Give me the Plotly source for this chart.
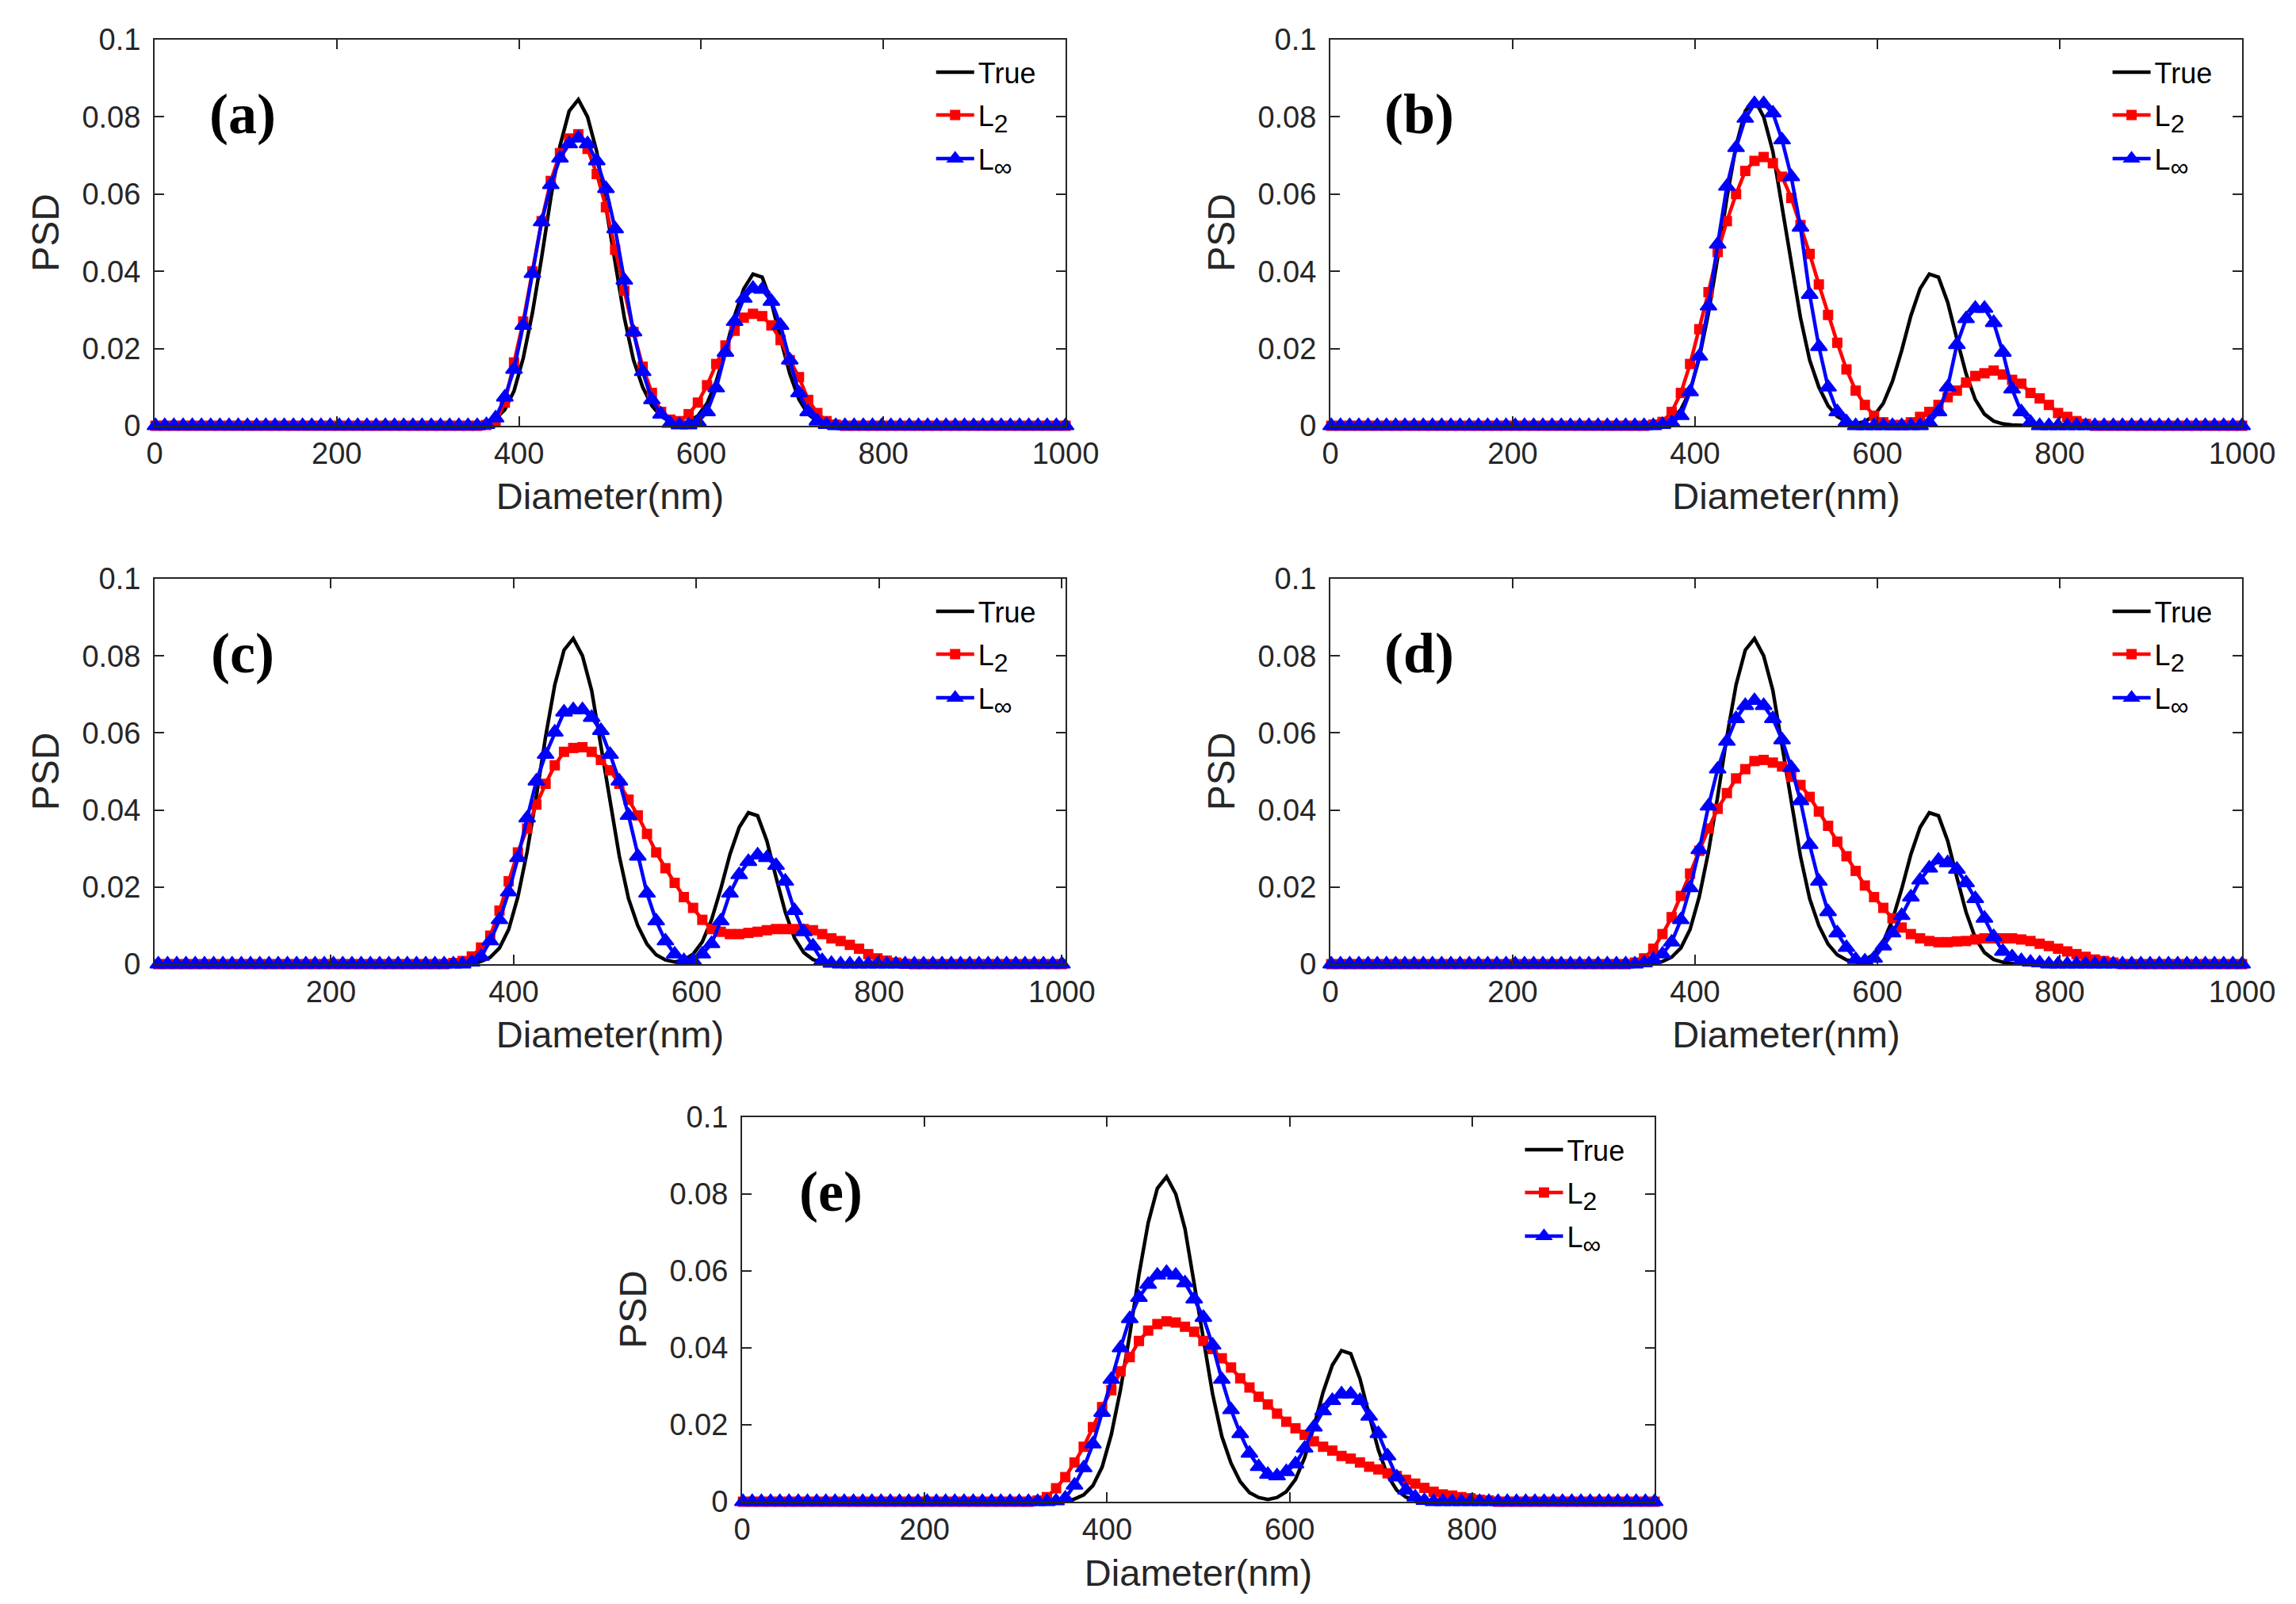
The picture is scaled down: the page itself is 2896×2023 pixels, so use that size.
import numpy as np
import plotly.graph_objects as go

# diameter grid (nm) of the inversion, 100 points
N_POINTS = 100
diameter = np.linspace(1, 1000, N_POINTS)

# each curve is zero outside the stretch listed; *_START is the grid index of the first value
TRUE_START = 33
TRUE_PSD = [0.0000, 0.0001, 0.0002, 0.0007, 0.0018, 0.0042, 0.0090, 0.0175, 0.0292, 0.0435,
            0.0590, 0.0725, 0.0815, 0.0845, 0.0800, 0.0710, 0.0570, 0.0420, 0.0280, 0.0170,
            0.0100, 0.0052, 0.0024, 0.0011, 0.0006, 0.0011, 0.0026, 0.0058, 0.0115, 0.0195,
            0.0285, 0.0355, 0.0393, 0.0385, 0.0320, 0.0225, 0.0135, 0.0068, 0.0030, 0.0012,
            0.0005, 0.0002]

A_L2_START = 36
A_L2 = [0.0002, 0.0010, 0.0060, 0.0164, 0.0270, 0.0400, 0.0530, 0.0634, 0.0706, 0.0744,
        0.0755, 0.0717, 0.0652, 0.0566, 0.0456, 0.0350, 0.0243, 0.0153, 0.0085, 0.0036,
        0.0016, 0.0012, 0.0030, 0.0060, 0.0105, 0.0160, 0.0208, 0.0246, 0.0280, 0.0290,
        0.0284, 0.0260, 0.0222, 0.0170, 0.0126, 0.0067, 0.0033, 0.0012, 0.0003]
A_LINF_START = 36
A_LINF = [0.0003, 0.0020, 0.0074, 0.0146, 0.0260, 0.0394, 0.0528, 0.0624, 0.0693, 0.0730,
          0.0745, 0.0730, 0.0686, 0.0614, 0.0510, 0.0377, 0.0243, 0.0140, 0.0067, 0.0030,
          0.0006, 0.0002, 0.0002, 0.0010, 0.0036, 0.0098, 0.0190, 0.0270, 0.0330, 0.0356,
          0.0353, 0.0322, 0.0260, 0.0170, 0.0085, 0.0036, 0.0012, 0.0003]

B_L2_START = 35
B_L2 = [0.0003, 0.0010, 0.0036, 0.0085, 0.0160, 0.0250, 0.0346, 0.0450, 0.0530, 0.0600,
        0.0660, 0.0686, 0.0696, 0.0680, 0.0645, 0.0590, 0.0520, 0.0445, 0.0366, 0.0287,
        0.0215, 0.0146, 0.0091, 0.0054, 0.0026, 0.0009, 0.0002, 0.0002, 0.0009, 0.0023,
        0.0036, 0.0054, 0.0074, 0.0091, 0.0112, 0.0129, 0.0136, 0.0143, 0.0133, 0.0119,
        0.0109, 0.0085, 0.0071, 0.0054, 0.0033, 0.0023, 0.0012, 0.0005]
B_LINF_START = 36
B_LINF = [0.0003, 0.0008, 0.0026, 0.0088, 0.0180, 0.0310, 0.0470, 0.0620, 0.0720, 0.0796,
          0.0834, 0.0834, 0.0810, 0.0740, 0.0645, 0.0514, 0.0340, 0.0205, 0.0100, 0.0036,
          0.0010, 0.0000, 0.0000, 0.0000, 0.0000, 0.0000, 0.0000, 0.0000, 0.0000, 0.0008,
          0.0036, 0.0100, 0.0210, 0.0277, 0.0304, 0.0304, 0.0267, 0.0190, 0.0095, 0.0036,
          0.0009]

C_L2_START = 33
C_L2 = [0.0003, 0.0008, 0.0020, 0.0043, 0.0074, 0.0139, 0.0215, 0.0290, 0.0352, 0.0414,
        0.0468, 0.0516, 0.0551, 0.0561, 0.0563, 0.0551, 0.0530, 0.0503, 0.0468, 0.0427,
        0.0386, 0.0338, 0.0290, 0.0249, 0.0211, 0.0174, 0.0146, 0.0115, 0.0091, 0.0084,
        0.0078, 0.0078, 0.0081, 0.0084, 0.0088, 0.0091, 0.0091, 0.0091, 0.0091, 0.0088,
        0.0078, 0.0067, 0.0060, 0.0050, 0.0040, 0.0026, 0.0015, 0.0009, 0.0004, 0.0001]
C_LINF_START = 35
C_LINF = [0.0005, 0.0020, 0.0060, 0.0115, 0.0187, 0.0276, 0.0379, 0.0475, 0.0544, 0.0602,
          0.0654, 0.0660, 0.0660, 0.0640, 0.0606, 0.0544, 0.0475, 0.0386, 0.0280, 0.0184,
          0.0112, 0.0060, 0.0026, 0.0009, 0.0009, 0.0026, 0.0053, 0.0112, 0.0184, 0.0232,
          0.0266, 0.0283, 0.0276, 0.0256, 0.0215, 0.0139, 0.0084, 0.0047, 0.0009, 0.0002]

D_L2_START = 33
D_L2 = [0.0004, 0.0015, 0.0040, 0.0078, 0.0122, 0.0177, 0.0235, 0.0294, 0.0352, 0.0403,
        0.0444, 0.0482, 0.0506, 0.0527, 0.0530, 0.0523, 0.0513, 0.0486, 0.0465, 0.0434,
        0.0396, 0.0359, 0.0318, 0.0280, 0.0242, 0.0204, 0.0174, 0.0146, 0.0119, 0.0095,
        0.0078, 0.0067, 0.0060, 0.0057, 0.0057, 0.0059, 0.0060, 0.0064, 0.0067, 0.0067,
        0.0067, 0.0067, 0.0064, 0.0060, 0.0053, 0.0047, 0.0040, 0.0033, 0.0026, 0.0019,
        0.0012, 0.0008, 0.0004]
D_LINF_START = 34
D_LINF = [0.0003, 0.0012, 0.0026, 0.0057, 0.0115, 0.0198, 0.0297, 0.0410, 0.0506, 0.0578,
          0.0637, 0.0671, 0.0684, 0.0671, 0.0637, 0.0582, 0.0510, 0.0424, 0.0310, 0.0215,
          0.0136, 0.0081, 0.0043, 0.0012, 0.0008, 0.0015, 0.0047, 0.0081, 0.0126, 0.0174,
          0.0218, 0.0249, 0.0270, 0.0263, 0.0246, 0.0211, 0.0170, 0.0119, 0.0071, 0.0033,
          0.0019, 0.0009, 0.0005, 0.0003]

E_L2_START = 32
E_L2 = [0.0003, 0.0012, 0.0035, 0.0064, 0.0102, 0.0143, 0.0194, 0.0246, 0.0290, 0.0339,
        0.0376, 0.0418, 0.0445, 0.0462, 0.0469, 0.0466, 0.0455, 0.0442, 0.0418, 0.0397,
        0.0373, 0.0349, 0.0321, 0.0297, 0.0273, 0.0253, 0.0229, 0.0208, 0.0191, 0.0174,
        0.0157, 0.0143, 0.0133, 0.0119, 0.0112, 0.0102, 0.0091, 0.0084, 0.0074, 0.0067,
        0.0057, 0.0047, 0.0036, 0.0026, 0.0019, 0.0016, 0.0012, 0.0009, 0.0005, 0.0003]
E_LINF_START = 34
E_LINF = [0.0002, 0.0009, 0.0043, 0.0088, 0.0150, 0.0232, 0.0318, 0.0400, 0.0476, 0.0531,
          0.0565, 0.0589, 0.0596, 0.0589, 0.0569, 0.0527, 0.0479, 0.0407, 0.0318, 0.0239,
          0.0177, 0.0126, 0.0091, 0.0071, 0.0067, 0.0078, 0.0098, 0.0139, 0.0194, 0.0236,
          0.0263, 0.0280, 0.0280, 0.0263, 0.0222, 0.0177, 0.0119, 0.0064, 0.0030, 0.0012,
          0.0003]

X_TICKS = [0, 200, 400, 600, 800, 1000]
Y_TICKS = [0, 0.02, 0.04, 0.06, 0.08, 0.1]
Y_TICK_TEXT = ["0", "0.02", "0.04", "0.06", "0.08", "0.1"]
PANEL_LABELS = ["(a)", "(b)", "(c)", "(d)", "(e)"]
SUB = "<sub><span style='font-size:32px'>%s</span></sub>"
SERIES_NAMES = ["True", "L" + SUB % "2", "L" + SUB % "∞"]


def full_curve(start, values):
    y = np.zeros(N_POINTS)
    y[start:start + len(values)] = values
    return y


panels = [
    (full_curve(A_L2_START, A_L2), full_curve(A_LINF_START, A_LINF)),
    (full_curve(B_L2_START, B_L2), full_curve(B_LINF_START, B_LINF)),
    (full_curve(C_L2_START, C_L2), full_curve(C_LINF_START, C_LINF)),
    (full_curve(D_L2_START, D_L2), full_curve(D_LINF_START, D_LINF)),
    (full_curve(E_L2_START, E_L2), full_curve(E_LINF_START, E_LINF)),
]
true_curve = full_curve(TRUE_START, TRUE_PSD)

W, H = 2896, 2023
# plot-area boxes in pixels: left, right, top, bottom
boxes = [(187, 1336, 42, 529), (1670, 2820, 42, 529),
         (187, 1336, 722, 1208), (1670, 2820, 722, 1208),
         (928, 2079, 1401, 1886)]
x_ranges = [[0, 1000], [0, 1000], [7, 1004], [0, 1000], [0, 1000]]
# legend rows: pixel offset of each legend line below the plot top
LEGEND_ROWS = [49, 105, 167]
LEGEND_TOP_OFFSET = [38, 40, 47]

AXIS_COLOR = "#262626"
FONT = "Liberation Sans, Arial, sans-serif"

fig = go.Figure()
layout = dict(width=W, height=H, margin=dict(l=0, r=0, t=0, b=0), showlegend=True,
              paper_bgcolor="white", plot_bgcolor="white",
              font=dict(family=FONT, color=AXIS_COLOR), annotations=[])

styles = [
    dict(mode="lines", line=dict(color="black", width=4.5)),
    dict(mode="lines+markers", line=dict(color="#ff0000", width=4.5),
         marker=dict(symbol="square", size=13, color="#ff0000"), cliponaxis=False),
    dict(mode="lines+markers", line=dict(color="#0000ff", width=4.5),
         marker=dict(symbol="triangle-up", size=18, color="#0000ff",
                     line=dict(color="#0000ff", width=2)), cliponaxis=False),
]

for i, (l2, linf) in enumerate(panels):
    n = "" if i == 0 else str(i + 1)
    xa, ya = "x" + n, "y" + n
    left, right, top, bottom = boxes[i]

    for j, y in enumerate([true_curve, l2, linf]):
        k = 3 * i + j
        leg = "legend" if k == 0 else "legend%d" % (k + 1)
        fig.add_trace(go.Scatter(x=diameter, y=y, name=SERIES_NAMES[j], xaxis=xa, yaxis=ya,
                                 legend=leg, showlegend=True, **styles[j]))
        layout[leg] = dict(
            x=(left + 0.864 * (right - left) - 12) / W, xanchor="left",
            y=1 - (top + LEGEND_ROWS[j] - LEGEND_TOP_OFFSET[j]) / H, yanchor="top",
            bgcolor="rgba(0,0,0,0)", borderwidth=0, itemwidth=48, visible=True,
            font=dict(family=FONT, size=36, color="black"))

    layout["xaxis" + n] = dict(
        domain=[left / W, right / W], anchor=ya, range=x_ranges[i],
        tickvals=X_TICKS, ticks="inside", ticklen=12, tickwidth=2, tickcolor=AXIS_COLOR,
        showline=True, linecolor=AXIS_COLOR, linewidth=2, mirror="ticks",
        showgrid=False, zeroline=False, tickfont=dict(size=38, color=AXIS_COLOR),
        title=dict(text="Diameter(nm)", font=dict(size=47, color=AXIS_COLOR), standoff=18),
        automargin=False)
    layout["yaxis" + n] = dict(
        domain=[1 - bottom / H, 1 - top / H], anchor=xa, range=[0, 0.1],
        tickvals=Y_TICKS, ticktext=Y_TICK_TEXT, ticks="inside", ticklen=12, tickwidth=2,
        tickcolor=AXIS_COLOR, showline=True, linecolor=AXIS_COLOR, linewidth=2,
        mirror="ticks", showgrid=False, zeroline=False, ticklabelstandoff=8,
        tickfont=dict(size=38, color=AXIS_COLOR),
        title=dict(text="PSD", font=dict(size=48, color=AXIS_COLOR), standoff=14),
        automargin=False)
    layout["annotations"].append(dict(
        text="<b>" + PANEL_LABELS[i] + "</b>", xref=xa + " domain", yref=ya + " domain",
        x=0.097, y=0.806, xanchor="center", yanchor="middle", showarrow=False,
        font=dict(family="Liberation Serif, Times New Roman, serif", size=72, color="black")))

fig.update_layout(**layout)
fig.write_html("out.html")
